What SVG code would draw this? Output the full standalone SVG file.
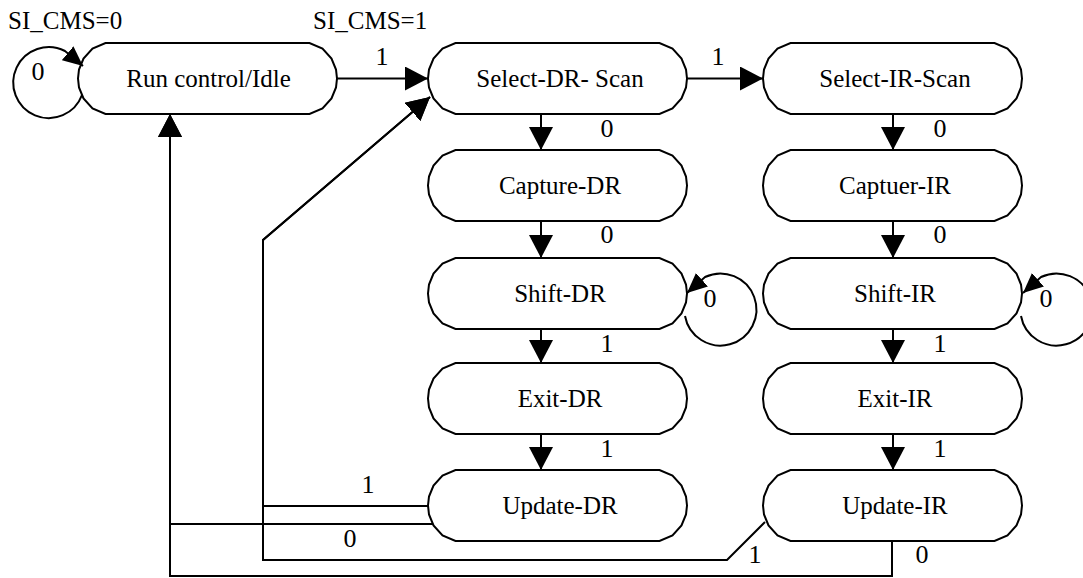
<svg xmlns="http://www.w3.org/2000/svg" width="1083" height="578" viewBox="0 0 1083 578">
<defs>
<style>
.n{fill:#fff;stroke:#000;stroke-width:2;stroke-linejoin:miter}
.t{font-family:"Liberation Serif","Times New Roman",serif;font-size:25px;fill:#000;text-anchor:middle}
.e{fill:none;stroke:#000;stroke-width:2;stroke-linejoin:miter}
.l{font-family:"Liberation Serif","Times New Roman",serif;font-size:26px;fill:#000;text-anchor:middle}
.h{font-family:"Liberation Serif","Times New Roman",serif;font-size:25px;fill:#000}
</style>
<path id="shape" d="M-102,-35.5 H102 L115,-30 L124,-20 L128.5,-9 L129.5,0 L128.5,9 L124,20 L115,30 L102,35.5 H-102 L-115,30 L-124,20 L-128.5,9 L-129.5,0 L-128.5,-9 L-124,-20 L-115,-30 Z"/>
<marker id="ah" viewBox="0 0 23 24" refX="23" refY="12" markerWidth="23" markerHeight="24" orient="auto" markerUnits="userSpaceOnUse"><path d="M0,0 L23,12 L0,24 Z" fill="#000"/></marker>
<marker id="as" viewBox="0 0 20 18" refX="20" refY="9" markerWidth="20" markerHeight="18" orient="auto" markerUnits="userSpaceOnUse"><path d="M0,0 L20,9 L0,18 Z" fill="#000"/></marker>
</defs>

<text class="h" x="8" y="29">SI_CMS=0</text>
<text class="h" x="313" y="29">SI_CMS=1</text>

<g id="n-run"><use href="#shape" class="n" transform="translate(207.5,78.5)"/><text class="t" x="208.5" y="87">Run control/Idle</text></g>
<g id="n-seldr"><use href="#shape" class="n" transform="translate(557.5,78.5)"/><text class="t" x="560" y="87">Select-DR- Scan</text></g>
<g id="n-selir"><use href="#shape" class="n" transform="translate(892.5,78.5)"/><text class="t" x="895" y="87">Select-IR-Scan</text></g>
<g id="n-capdr"><use href="#shape" class="n" transform="translate(557.5,185.5)"/><text class="t" x="560" y="194">Capture-DR</text></g>
<g id="n-capir"><use href="#shape" class="n" transform="translate(892.5,185.5)"/><text class="t" x="895" y="194">Captuer-IR</text></g>
<g id="n-shdr"><use href="#shape" class="n" transform="translate(557.5,293.5)"/><text class="t" x="560" y="302">Shift-DR</text></g>
<g id="n-shir"><use href="#shape" class="n" transform="translate(892.5,293.5)"/><text class="t" x="895" y="302">Shift-IR</text></g>
<g id="n-exdr"><use href="#shape" class="n" transform="translate(557.5,398.5)"/><text class="t" x="560" y="407">Exit-DR</text></g>
<g id="n-exir"><use href="#shape" class="n" transform="translate(892.5,398.5)"/><text class="t" x="895" y="407">Exit-IR</text></g>
<g id="n-updr"><use href="#shape" class="n" transform="translate(557.5,505.5)"/><text class="t" x="560" y="514">Update-DR</text></g>
<g id="n-upir"><use href="#shape" class="n" transform="translate(892.5,505.5)"/><text class="t" x="895" y="514">Update-IR</text></g>

<g id="connectors">
<path class="e" d="M82,95 A35.5,35.5 0 1 1 65,51 L83,66" marker-end="url(#as)"/>
<text class="l" x="38" y="80">0</text>
<path class="e" d="M337,78.5 H428" marker-end="url(#ah)"/>
<text class="l" x="382" y="65">1</text>
<path class="e" d="M687,78.5 H763" marker-end="url(#ah)"/>
<text class="l" x="718" y="65">1</text>

<path class="e" d="M541,114 V150" marker-end="url(#ah)"/>
<text class="l" x="607" y="137">0</text>
<path class="e" d="M541,221 V258" marker-end="url(#ah)"/>
<text class="l" x="607" y="243">0</text>
<path class="e" d="M541,329 V363" marker-end="url(#ah)"/>
<text class="l" x="607" y="352">1</text>
<path class="e" d="M541,434 V470" marker-end="url(#ah)"/>
<text class="l" x="607" y="457">1</text>

<path class="e" d="M893,114 V150" marker-end="url(#ah)"/>
<text class="l" x="940" y="137">0</text>
<path class="e" d="M893,221 V258" marker-end="url(#ah)"/>
<text class="l" x="940" y="243">0</text>
<path class="e" d="M893,329 V363" marker-end="url(#ah)"/>
<text class="l" x="940" y="352">1</text>
<path class="e" d="M893,434 V470" marker-end="url(#ah)"/>
<text class="l" x="940" y="457">1</text>

<path class="e" d="M685,316 A36,36 0 1 0 705,277 L687,293" marker-end="url(#as)"/>
<text class="l" x="710" y="307">0</text>
<path class="e" d="M1021,316 A36,36 0 1 0 1041,277 L1023,293" marker-end="url(#as)"/>
<text class="l" x="1046" y="307">0</text>

<path class="e" d="M428,506 H263 V240 L430,97" marker-end="url(#ah)"/>
<text class="l" x="368" y="493">1</text>
<path class="e" d="M433,524 H170 V114" marker-end="url(#ah)"/>
<text class="l" x="350" y="547">0</text>
<path class="e" d="M765,522 L727,560 H263 V240 L430,97" marker-end="url(#ah)"/>
<text class="l" x="755" y="563">1</text>
<path class="e" d="M892,541 V576 H170 V114" marker-end="url(#ah)"/>
<text class="l" x="922" y="563">0</text>
</g>
</svg>
